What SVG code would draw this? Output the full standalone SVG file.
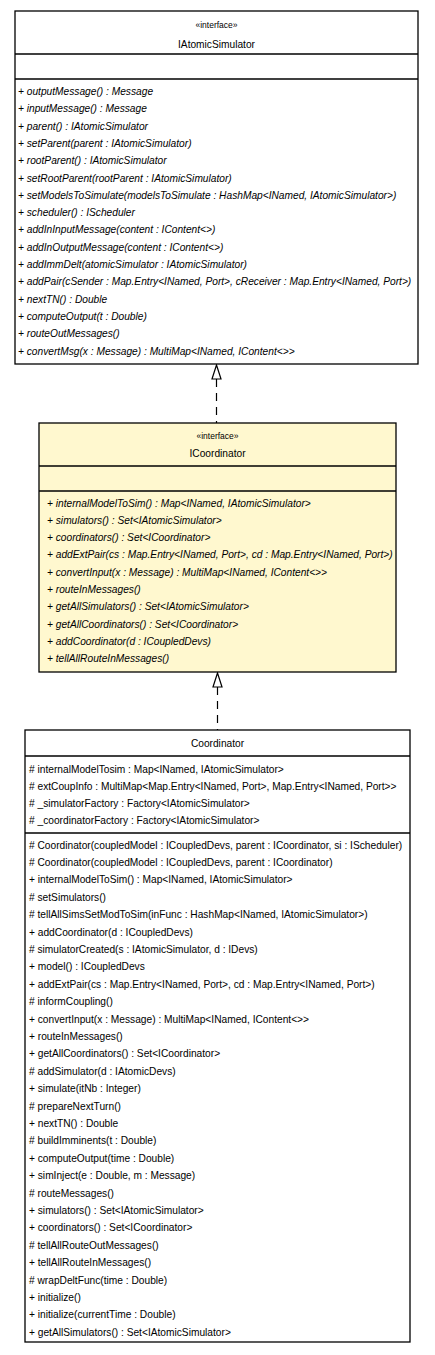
<svg xmlns="http://www.w3.org/2000/svg" width="435" height="1355" viewBox="0 0 435 1355">
<style>
.box{fill:#ffffff;stroke:#000000;stroke-width:1.3}
.ibox{fill:#fff8cf;stroke:#000000;stroke-width:1.3}
.div{stroke:#000000;stroke-width:1.3}
text{font-family:"Liberation Sans",Arial,sans-serif;font-size:10.2px;fill:#000000}
.st{font-size:8.5px}
.it{font-style:italic}
.c{text-anchor:middle}
.conn{stroke:#000000;stroke-width:1.2;fill:none}
.dash{stroke-dasharray:8,6}
.head{fill:#ffffff;stroke:#000000;stroke-width:1.2}
</style>
<rect width="435" height="1355" fill="#ffffff"/>
<g id="connectors">
<line class="conn dash" x1="216.5" y1="379" x2="216.5" y2="423"/>
<polygon class="head" points="216.5,365 212,379 221,379"/>
<line class="conn dash" x1="217.5" y1="687" x2="217.5" y2="730"/>
<polygon class="head" points="217.5,673 213,687 222,687"/>
</g>
<g id="IAtomicSimulator">
<rect class="box" x="15" y="11" width="403" height="353"/>
<line class="div" x1="15" y1="54" x2="418" y2="54"/>
<line class="div" x1="15" y1="79" x2="418" y2="79"/>
<text class="st c" x="216.5" y="28">«interface»</text>
<text class="c" x="216.5" y="47.5">IAtomicSimulator</text>
<g class="it">
<text x="18" y="95">+ outputMessage() : Message</text>
<text x="18" y="112.3">+ inputMessage() : Message</text>
<text x="18" y="129.6">+ parent() : IAtomicSimulator</text>
<text x="18" y="146.9">+ setParent(parent : IAtomicSimulator)</text>
<text x="18" y="164.2">+ rootParent() : IAtomicSimulator</text>
<text x="18" y="181.5">+ setRootParent(rootParent : IAtomicSimulator)</text>
<text x="18" y="198.8">+ setModelsToSimulate(modelsToSimulate : HashMap&lt;INamed, IAtomicSimulator&gt;)</text>
<text x="18" y="216.1">+ scheduler() : IScheduler</text>
<text x="18" y="233.4">+ addInInputMessage(content : IContent&lt;&gt;)</text>
<text x="18" y="250.7">+ addInOutputMessage(content : IContent&lt;&gt;)</text>
<text x="18" y="268">+ addImmDelt(atomicSimulator : IAtomicSimulator)</text>
<text x="18" y="285.3">+ addPair(cSender : Map.Entry&lt;INamed, Port&gt;, cReceiver : Map.Entry&lt;INamed, Port&gt;)</text>
<text x="18" y="302.6">+ nextTN() : Double</text>
<text x="18" y="319.9">+ computeOutput(t : Double)</text>
<text x="18" y="337.2">+ routeOutMessages()</text>
<text x="18" y="354.5">+ convertMsg(x : Message) : MultiMap&lt;INamed, IContent&lt;&gt;&gt;</text>
</g>
</g>
<g id="ICoordinator">
<rect class="ibox" x="39" y="423" width="357" height="249"/>
<line class="div" x1="39" y1="466" x2="396" y2="466"/>
<line class="div" x1="39" y1="491" x2="396" y2="491"/>
<text class="st c" x="217.5" y="439">«interface»</text>
<text class="c" x="217.5" y="456.5">ICoordinator</text>
<g class="it">
<text x="47" y="506.5">+ internalModelToSim() : Map&lt;INamed, IAtomicSimulator&gt;</text>
<text x="47" y="523.8">+ simulators() : Set&lt;IAtomicSimulator&gt;</text>
<text x="47" y="541.1">+ coordinators() : Set&lt;ICoordinator&gt;</text>
<text x="47" y="558.4">+ addExtPair(cs : Map.Entry&lt;INamed, Port&gt;, cd : Map.Entry&lt;INamed, Port&gt;)</text>
<text x="47" y="575.7">+ convertInput(x : Message) : MultiMap&lt;INamed, IContent&lt;&gt;&gt;</text>
<text x="47" y="593">+ routeInMessages()</text>
<text x="47" y="610.3">+ getAllSimulators() : Set&lt;IAtomicSimulator&gt;</text>
<text x="47" y="627.6">+ getAllCoordinators() : Set&lt;ICoordinator&gt;</text>
<text x="47" y="644.9">+ addCoordinator(d : ICoupledDevs)</text>
<text x="47" y="662.2">+ tellAllRouteInMessages()</text>
</g>
</g>
<g id="Coordinator">
<rect class="box" x="25" y="730" width="385" height="612"/>
<line class="div" x1="25" y1="756" x2="410" y2="756"/>
<line class="div" x1="25" y1="833" x2="410" y2="833"/>
<text class="c" x="217.5" y="746.5">Coordinator</text>
<text x="29" y="772.5"># internalModelTosim : Map&lt;INamed, IAtomicSimulator&gt;</text>
<text x="29" y="789.8"># extCoupInfo : MultiMap&lt;Map.Entry&lt;INamed, Port&gt;, Map.Entry&lt;INamed, Port&gt;&gt;</text>
<text x="29" y="807.1"># _simulatorFactory : Factory&lt;IAtomicSimulator&gt;</text>
<text x="29" y="824.4"># _coordinatorFactory : Factory&lt;IAtomicSimulator&gt;</text>
<text x="29" y="848.5"># Coordinator(coupledModel : ICoupledDevs, parent : ICoordinator, si : IScheduler)</text>
<text x="29" y="865.9"># Coordinator(coupledModel : ICoupledDevs, parent : ICoordinator)</text>
<text x="29" y="883.3">+ internalModelToSim() : Map&lt;INamed, IAtomicSimulator&gt;</text>
<text x="29" y="900.7"># setSimulators()</text>
<text x="29" y="918.1"># tellAllSimsSetModToSim(inFunc : HashMap&lt;INamed, IAtomicSimulator&gt;)</text>
<text x="29" y="935.5">+ addCoordinator(d : ICoupledDevs)</text>
<text x="29" y="952.9"># simulatorCreated(s : IAtomicSimulator, d : IDevs)</text>
<text x="29" y="970.3">+ model() : ICoupledDevs</text>
<text x="29" y="987.7">+ addExtPair(cs : Map.Entry&lt;INamed, Port&gt;, cd : Map.Entry&lt;INamed, Port&gt;)</text>
<text x="29" y="1005.1"># informCoupling()</text>
<text x="29" y="1022.5">+ convertInput(x : Message) : MultiMap&lt;INamed, IContent&lt;&gt;&gt;</text>
<text x="29" y="1039.9">+ routeInMessages()</text>
<text x="29" y="1057.3">+ getAllCoordinators() : Set&lt;ICoordinator&gt;</text>
<text x="29" y="1074.7"># addSimulator(d : IAtomicDevs)</text>
<text x="29" y="1092.1">+ simulate(itNb : Integer)</text>
<text x="29" y="1109.5"># prepareNextTurn()</text>
<text x="29" y="1126.9">+ nextTN() : Double</text>
<text x="29" y="1144.3"># buildImminents(t : Double)</text>
<text x="29" y="1161.7">+ computeOutput(time : Double)</text>
<text x="29" y="1179.1">+ simInject(e : Double, m : Message)</text>
<text x="29" y="1196.5"># routeMessages()</text>
<text x="29" y="1213.9">+ simulators() : Set&lt;IAtomicSimulator&gt;</text>
<text x="29" y="1231.3">+ coordinators() : Set&lt;ICoordinator&gt;</text>
<text x="29" y="1248.7"># tellAllRouteOutMessages()</text>
<text x="29" y="1266.1">+ tellAllRouteInMessages()</text>
<text x="29" y="1283.5"># wrapDeltFunc(time : Double)</text>
<text x="29" y="1300.9">+ initialize()</text>
<text x="29" y="1318.3">+ initialize(currentTime : Double)</text>
<text x="29" y="1335.7">+ getAllSimulators() : Set&lt;IAtomicSimulator&gt;</text>
</g>
</svg>
